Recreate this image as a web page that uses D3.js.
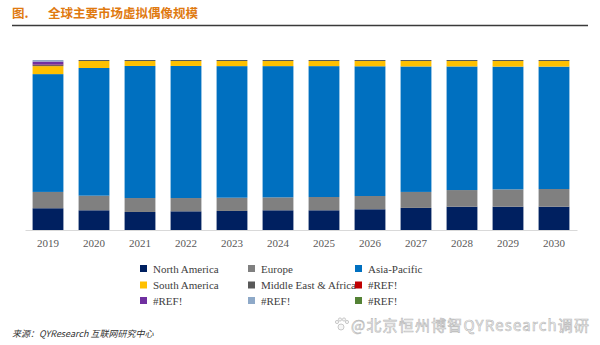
<!DOCTYPE html>
<html><head><meta charset="utf-8">
<script src="https://cdn.jsdelivr.net/npm/d3@7"></script>
<style>body{margin:0;background:#fff;}svg{display:block;}</style>
</head><body>
<svg id="chart" width="600" height="345"></svg>
<script>
const years = ["2019","2020","2021","2022","2023","2024","2025","2026","2027","2028","2029","2030"];
const northAmerica = [12.8,11.6,10.6,11.0,11.2,11.6,11.6,12.2,13.0,13.7,13.7,13.7];
const europe       = [9.6,8.6,8.2,7.8,7.8,7.6,7.8,7.8,9.4,9.8,10.2,10.4];
const asiaPacific  = [69.3,75.1,77.7,77.7,77.4,77.2,77.0,76.3,73.8,72.7,72.2,72.0];
const southAmerica = [4.7,4.1,2.9,2.9,3.0,3.0,3.0,3.1,3.2,3.2,3.3,3.3];
const mea          = [0.6,0.6,0.6,0.6,0.6,0.6,0.6,0.6,0.6,0.6,0.6,0.6];
const ref1         = [0.3,0,0,0,0,0,0,0,0,0,0,0];
const ref2         = [1.8,0,0,0,0,0,0,0,0,0,0,0];
const ref3         = [0.9,0,0,0,0,0,0,0,0,0,0,0];
const ref4         = [0,0,0,0,0,0,0,0,0,0,0,0];
const seriesNames  = ["North America","Europe","Asia-Pacific","South America","Middle East & Africa","#REF!","#REF!","#REF!","#REF!"];
const seriesValues = [northAmerica,europe,asiaPacific,southAmerica,mea,ref1,ref2,ref3,ref4];
const colors = ["#002060","#808080","#0070C0","#FFC000","#595959","#C00000","#7030A0","#8EA9C8","#548235"];

const svg = d3.select("#chart");

// title
svg.append("text").attr("x",12).attr("y",18).attr("fill","#E07A10")
  .attr("font-family","'Noto Sans CJK SC',sans-serif").attr("font-weight","bold").attr("font-size",12.5)
  .text("图.");
svg.append("text").attr("x",48).attr("y",18).attr("fill","#E07A10")
  .attr("font-family","'Noto Sans CJK SC',sans-serif").attr("font-weight","bold").attr("font-size",12.5)
  .text("全球主要市场虚拟偶像规模");
svg.append("line").attr("x1",12).attr("x2",588).attr("y1",25.5).attr("y2",25.5)
  .attr("stroke","#3a3a3a").attr("stroke-width",1.5);

// data
const keys = seriesNames.map((d,i)=>"s"+i);
const rows = years.map((y,j)=>{const r={year:y}; keys.forEach((k,i)=>r[k]=seriesValues[i][j]); return r;});
const stacked = d3.stack().keys(keys).offset(d3.stackOffsetExpand)(rows);

const x = d3.scaleBand().domain(years).range([25,577]).paddingInner(0.33).paddingOuter(0.165);
const y = d3.scaleLinear().domain([0,1]).range([230,60]);

svg.append("g").selectAll("g").data(stacked).join("g")
  .attr("fill",(d,i)=>colors[i])
  .selectAll("rect").data(d=>d).join("rect")
  .attr("x",d=>x(d.data.year)).attr("width",x.bandwidth())
  .attr("y",d=>y(d[1])).attr("height",d=>Math.max(0,y(d[0])-y(d[1])));

const xAxis = svg.append("g").attr("transform","translate(0,230)")
  .call(d3.axisBottom(x).tickSize(0).tickPadding(9));
xAxis.select(".domain").attr("stroke","#d9d9d9").attr("stroke-width",1);
xAxis.selectAll("text").attr("font-family","'Liberation Serif',serif").attr("font-size",11).attr("fill","#595959");

// legend
const colX = [143,251,358];
const rowY = [269,285.5,301];
const lg = svg.append("g");
seriesNames.forEach((n,i)=>{
  const cx = colX[i%3], cy = rowY[Math.floor(i/3)];
  lg.append("rect").attr("x",cx-3).attr("y",cy-4).attr("width",7).attr("height",7).attr("fill",colors[i]);
  lg.append("text").attr("x",cx+10).attr("y",cy+3.5).attr("font-family","'Liberation Serif',serif")
    .attr("font-size",11).attr("fill","#404040").text(n);
});

// footer
svg.append("text").attr("x",12).attr("y",337).attr("font-family","'Noto Sans CJK SC',sans-serif")
  .attr("font-style","italic").attr("font-size",9).attr("fill","#333").text("来源：QYResearch 互联网研究中心");
// watermark paw
const paw = svg.append("g").attr("fill","#f6f6f6").attr("stroke","#bdbdbd").attr("stroke-width",0.8);
[[341,327,3],[337,322,1.6],[340,319.5,1.6],[344,319.5,1.6],[347,322,1.6]].forEach(p=>
  paw.append("circle").attr("cx",p[0]).attr("cy",p[1]).attr("r",p[2]));
svg.append("text").attr("x",351).attr("y",331).attr("font-family","'Noto Sans CJK SC',sans-serif")
  .attr("font-size",15).attr("fill","#f6f6f6").attr("stroke","#b8b8b8").attr("stroke-width",0.6)
  .attr("textLength",238).text("@北京恒州博智QYResearch调研");
</script>
</body></html>
